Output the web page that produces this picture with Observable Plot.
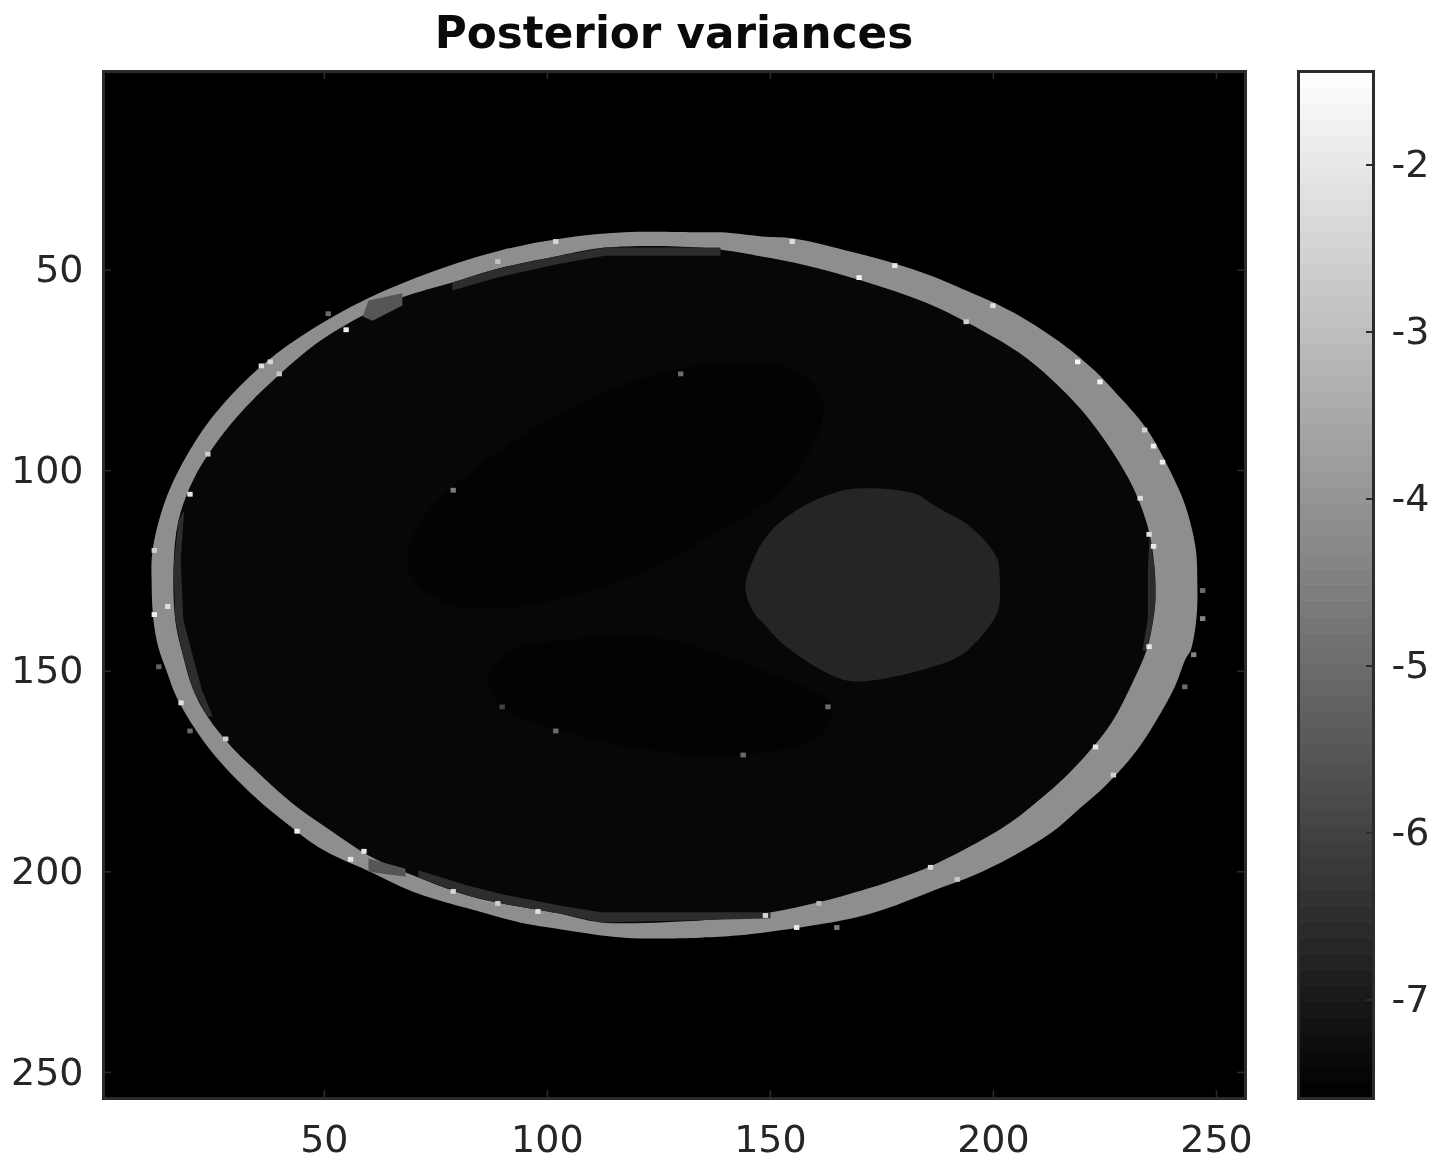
<!DOCTYPE html>
<html><head><meta charset="utf-8">
<script src="https://cdn.jsdelivr.net/npm/d3@7"></script>
<script src="https://cdn.jsdelivr.net/npm/@observablehq/plot@0.6"></script>
<style>
html,body{margin:0;padding:0;background:#fff}
#wrap{position:relative;width:1434px;height:1169px;overflow:hidden;font-family:"DejaVu Sans",sans-serif;filter:blur(0.5px)}
#title{position:absolute;left:103px;width:1142px;top:7px;text-align:center;font-weight:700;font-size:43.7px;line-height:52px;color:#0a0a0a}
#main,#bar{position:absolute;top:0}
#main{left:0}#bar{left:1290px}
svg{display:block}
</style></head><body>
<div id="wrap"><div id="title">Posterior variances</div><div id="main"></div><div id="bar"></div></div>
<script>
const imageTicksX=[50,100,150,200,250];
const imageTicksY=[50,100,150,200,250];
const barTicks=[-2,-3,-4,-5,-6,-7];
const colorDomain=[-7.59,-1.44];
const ringValue=-4.17, interiorValue=-7.42, lobeValue=-7.52, blobValue=-6.70, rimValue=-6.5, patchValue=-5.54;

const outerX=[117.3,134.3,139,148,155.2,168.8,178,185.7,192.8,204.5,215.9,222.6,227.6,231.6,235,240.1,243,245.3,245.7,245.5,244.2,243.1,240.6,236.5,232.5,228,224,219.5,212.8,203.8,195.5,187.9,176.7,168.4,159.4,148.2,142.4,134.3,117.3,101.8,93.8,82.1,72.2,66.6,59.5,54.5,48.7,41.5,34.8,27,21.6,16.9,14.6,12.8,11.7,11.3,11.5,14.6,20.5,27.4,39.1,56.1,72.5,89.5,103.2];
const outerY=[40.6,40.6,40.6,41.6,42.1,45.6,48.4,51.3,54.6,60.6,68.8,75,80.8,85.7,90.7,101.2,108.7,119.1,127.5,136.8,144.8,146.8,154,162.3,169.2,175.2,179.7,184,190.4,196.4,200.9,204.1,208.9,211.6,213.4,215.2,215.9,216.4,216.4,214.1,212.6,209.1,205.9,203.4,199.6,197.2,193.9,187.9,181.7,173,165.3,156.5,149.8,144.1,137.3,128.6,119.9,106.7,93.7,83.3,71,59.1,51.1,45.1,42.1];
const innerX=[113,134.3,148,158.3,170.4,184.8,197.5,205.6,212.8,220,226.5,231.6,234.8,236.1,236.3,235.6,234.3,231.6,226.5,221.3,215,208.7,203.8,196.9,186.3,177.6,170.6,160.8,150.2,142.4,134.3,112.1,102.7,89.9,82.1,71.1,59.9,51.4,42.6,34.1,28.9,23.8,20.5,18.2,16.6,16.2,17.3,20.9,26.5,32.1,39.7,48.2,58.6,67.5,78.7,89,102.7];
const innerY=[44.4,44.4,46.6,48.9,52.6,58.1,65.1,70.5,77,85.2,95,104.9,114.9,124.1,132.4,138.6,144.8,151.8,162.8,170.2,177.5,183.5,187.7,192.4,198.4,202.1,204.6,207.6,210.1,211.4,212.1,212.6,210.4,207.9,205.9,201.4,195.9,189.7,182.7,174.2,168.5,161.3,154.3,145.6,137.3,124.1,112.4,101.7,92,84.5,76.3,68.3,61.3,56.8,53.1,49.6,46.4];
const rimTopX=[138.8,113,102.7,89,78.7,78.7,89,102.7,113,138.8];
const rimTopY=[44.4,44.4,46.4,49.6,53.1,55.1,51.8,48.4,46.4,46.4];
const rimBottomX=[150,112.1,102.7,89.9,82.1,71.1,71.1,82.1,89.9,102.7,112.1,150];
const rimBottomY=[210.1,210.1,208.4,205.6,203.4,199.6,201.4,205.9,207.9,210.4,212.6,211.6];
const rimLeftX=[18.6,17.8,18.4,20.2,22.6,25,23.8,20.5,18.2,16.6,16.2,17.3];
const rimLeftY=[109.9,122.4,137.3,144.8,154.8,161.3,161.3,154.3,145.6,137.3,124.1,112.4];
const rimRightX=[235,234.6,234.6,233.4,234.3,235.6,236.3,236.1,234.8];
const rimRightY=[116,124.9,137,144.8,144.8,138.6,132.4,124.1,114.9];
const patchTopX=[59.9,67.5,67.5,60.8,58.6];
const patchTopY=[57.6,55.8,58.8,62.6,61.6];
const patchBottomX=[59.9,68.2,68.2,59.9];
const patchBottomY=[196.7,199.2,201.2,200];
const blobX=[170.4,182.3,187,195.1,200.7,201.4,201,198.2,192.6,185.7,172.7,167.1,160.8,152.7,148.2,146.4,144.4,146.4,150.2,155.8,163.9];
const blobY=[104.4,105.7,108.9,114.2,121.6,126.6,135,140,146.1,149.1,152.3,152.3,149.3,143.1,137.8,135.6,129.4,121.6,114.9,109.9,105.7];
const lobeUpperX=[134.3,154.5,161.7,160.1,152.3,138.8,116.4,89.5,76.1,68.9,70.4,80.5,96.2,116.4];
const lobeUpperY=[73.8,74.5,82.5,92.5,104.9,114.9,127.4,134.4,132.4,124.9,114.9,102.4,90,78.8];
const lobeLowerX=[103,125.4,145.5,163.5,161.2,143.3,123.1,103,89.5,86.6,91.7];
const lobeLowerY=[142.3,141.8,148.6,158.5,166,171,169.7,164.8,158.5,151,144.8];
const speckX=[102,89,55,38,36,40,24,20,12,15,12,51,79,130,155,178,170,194,200,219,224,234,236,238,233,235,236,247,247,18,28,44,59,56,79,98,89,102,90,20,13,235,223,227,186,192,161,149,156,165,144,163,243,245];
const speckY=[43,48,65,73,74,76,96,106,120,134,136,61,105,76,43,49,52,63,59,73,78,90,94,98,107,116,119,137,130,158,167,190,195,197,205,210,208,165,159,165,149,144,169,176,199,202,208,211,214,214,171,159,154,146];
const speckV=[-2.4,-2.9,-1.8,-2.4,-2.2,-2.8,-2.6,-2,-2.6,-2.2,-1.8,-5,-4.6,-5,-2.2,-2,-1.7,-2.6,-2.2,-1.6,-1.7,-2.5,-1.8,-1.8,-2.2,-2.2,-2,-4.4,-5,-2.2,-2.6,-1.8,-2,-2,-2.4,-2.2,-2.6,-5,-6,-5,-5.2,-2,-2,-2.6,-2.4,-2.8,-3.2,-2.4,-1.9,-4.6,-5,-5,-5,-4.4];

const H=1169, ink="#2b2b2b", axisInk="#262626", fs="38px";
const poly=(xs,ys,v,curve="catmull-rom-closed")=>Plot.line(xs.map((x,i)=>({x,y:ys[i],v})),{x:"x",y:"y",fill:"v",stroke:"none",curve});
const color={type:"linear",domain:colorDomain,range:["#000","#fff"]};
const speck=d3.range(speckX.length);

const main=Plot.plot({
  width:1290,height:H,marginLeft:103,marginRight:45,marginTop:71,marginBottom:71,
  style:{fontFamily:'"DejaVu Sans",sans-serif',fontSize:fs,color:axisInk,background:"transparent"},
  x:{domain:[0.5,256.5],label:null},
  y:{domain:[256.5,0.5],label:null},
  color,
  marks:[
    Plot.frame({fill:"#000",stroke:"none"}),
    poly(outerX,outerY,ringValue),
    poly(innerX,innerY,interiorValue),
    poly(rimTopX,rimTopY,rimValue,"linear"),
    poly(rimBottomX,rimBottomY,rimValue,"linear"),
    poly(rimLeftX,rimLeftY,rimValue,"linear"),
    poly(rimRightX,rimRightY,rimValue,"linear"),
    poly(patchTopX,patchTopY,patchValue,"linear"),
    poly(patchBottomX,patchBottomY,patchValue,"linear"),
    poly(lobeUpperX,lobeUpperY,lobeValue),
    poly(lobeLowerX,lobeLowerY,lobeValue),
    poly(blobX,blobY,blobValue),
    Plot.rect(speck,{x1:i=>speckX[i]-.6,x2:i=>speckX[i]+.6,y1:i=>speckY[i]-.6,y2:i=>speckY[i]+.6,fill:i=>speckV[i]}),
    Plot.ruleX(imageTicksX,{stroke:ink,strokeWidth:1.5,insetTop:1019}),
    Plot.ruleX(imageTicksX,{stroke:ink,strokeWidth:1.5,insetBottom:1019}),
    Plot.ruleY(imageTicksY,{stroke:ink,strokeWidth:1.5,insetRight:1134}),
    Plot.ruleY(imageTicksY,{stroke:ink,strokeWidth:1.5,insetLeft:1134}),
    Plot.frame({stroke:ink,strokeWidth:3}),
    Plot.axisX(imageTicksX,{anchor:"bottom",tickSize:0,tickPadding:27,label:null,tickFormat:d=>String(d)}),
    Plot.axisY(imageTicksY,{anchor:"left",tickSize:0,tickPadding:20,label:null,tickFormat:d=>String(d)})
  ]
});
document.getElementById("main").append(main);

const levels=d3.range(64);
const step=(colorDomain[1]-colorDomain[0])/64;
const bar=Plot.plot({
  width:144,height:H,marginLeft:8,marginRight:61,marginTop:71,marginBottom:71,
  style:{fontFamily:'"DejaVu Sans",sans-serif',fontSize:fs,color:axisInk,background:"transparent"},
  x:{domain:[0,1],axis:null},
  y:{domain:colorDomain,label:null},
  color,
  marks:[
    Plot.rect(levels,{x1:0,x2:1,y1:i=>colorDomain[0]+i*step,y2:i=>colorDomain[0]+(i+1)*step,fill:i=>colorDomain[0]+(i+.5)*step,inset:-0.3}),
    Plot.ruleY(barTicks,{stroke:ink,strokeWidth:2,insetLeft:68}),
    Plot.frame({stroke:ink,strokeWidth:3}),
    Plot.axisY(barTicks,{anchor:"right",tickSize:0,tickPadding:18,label:null,tickFormat:d=>String(d)})
  ]
});
document.getElementById("bar").append(bar);
</script>
</body></html>
